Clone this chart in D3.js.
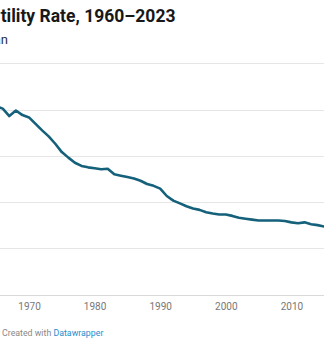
<!DOCTYPE html>
<html><head><meta charset="utf-8">
<script src="https://cdn.jsdelivr.net/npm/d3@7"></script>
<style>
html,body{margin:0;padding:0;background:#fff;overflow:hidden;}
svg{display:block;font-family:Roboto,"Noto Sans",sans-serif;}
</style></head><body>
<svg id="c" width="324" height="341"></svg>
<script>
const years = d3.range(1960, 2024);
const fertility = [4.70,4.69,5.01,5.31,5.15,5.07,5.02,4.86,4.98,4.88,
  4.83,4.69,4.55,4.42,4.26,4.08,3.96,3.85,3.78,3.75,
  3.73,3.71,3.72,3.60,3.57,3.54,3.51,3.46,3.39,3.35,
  3.29,3.13,3.03,2.97,2.91,2.86,2.83,2.78,2.75,2.73,
  2.73,2.70,2.66,2.64,2.62,2.60,2.60,2.60,2.60,2.59,
  2.56,2.54,2.56,2.52,2.50,2.47,2.45,2.43,2.39,2.36,
  2.30,2.29,2.27,2.25];
const yTicks = [1,2,3,4,5,6];
const xTicks = [1970,1980,1990,2000,2010];
const titleText = "Total Fertility Rate, 1960–2023";
const subtitleText = "Births per woman";

const svg = d3.select("#c");
const x = d3.scaleLinear().domain([1960, 2023]).range([-36.6, 376.7]);
const y = d3.scaleLinear().domain([1, 6]).range([294.5, 63.3]);

svg.append("text").attr("x", 175.5).attr("y", 22).attr("text-anchor", "end")
  .attr("font-size", 17.5).attr("font-weight", 700).attr("fill", "#181818").text(titleText);
svg.append("text").attr("x", 8).attr("y", 44).attr("text-anchor", "end")
  .attr("font-size", 13).attr("fill", "#2a2f45").text(subtitleText);

const grid = svg.append("g");
grid.selectAll("line").data(yTicks).join("line")
  .attr("x1", 0).attr("x2", 324)
  .attr("y1", d => Math.round(y(d)) + 0.5).attr("y2", d => Math.round(y(d)) + 0.5)
  .attr("stroke", d => d === 1 ? "#d9d9d9" : "#e6e6e6").attr("stroke-width", 1);

const xAxis = d3.axisBottom(x).tickValues(xTicks).tickFormat(d3.format("d")).tickSize(0).tickPadding(0);
const ax = svg.append("g").attr("transform", "translate(0,303)").call(xAxis);
ax.select(".domain").remove();
ax.selectAll("text").attr("font-size", 10).attr("fill", "#777").attr("font-family", "Roboto");

const line = d3.line().x((d, i) => x(years[i])).y(d => y(d));
svg.append("path").datum(fertility).attr("d", line)
  .attr("fill", "none").attr("stroke", "#15607a").attr("stroke-width", 2.6)
  .attr("stroke-linejoin", "round").attr("stroke-linecap", "round");

const foot = svg.append("text").attr("x", 2).attr("y", 336).attr("font-size", 8.8);
foot.append("tspan").attr("fill", "#888").text("Created with ");
foot.append("tspan").attr("fill", "#1d8fcf").text("Datawrapper");
</script>
</body></html>
